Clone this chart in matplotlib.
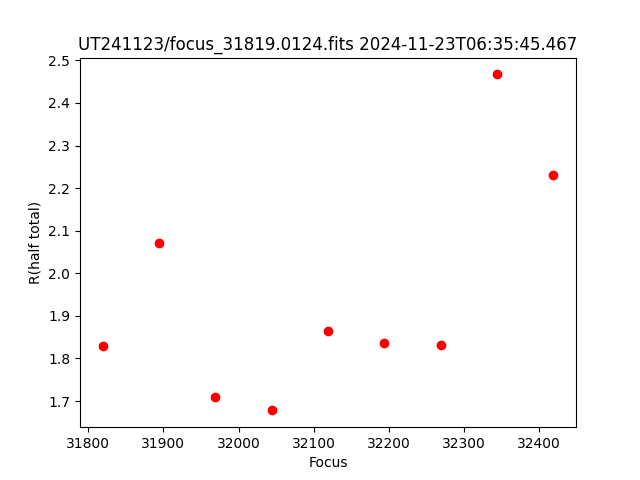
import matplotlib
matplotlib.use("Agg")
import matplotlib.pyplot as plt

# focus positions and measured half-total radius
focus = [31819, 31894, 31969, 32044, 32119, 32194, 32269, 32344, 32419]
r_half = [1.829, 2.070, 1.709, 1.678, 1.864, 1.836, 1.831, 2.467, 2.230]

fig, ax = plt.subplots(figsize=(6.4, 4.8), dpi=100)
ax.plot(focus, r_half, "o", color="red")
ax.set_xlabel("Focus")
ax.set_ylabel("R(half total)")
ax.set_title("UT241123/focus_31819.0124.fits 2024-11-23T06:35:45.467")

fig.savefig("out.png", dpi=100)
